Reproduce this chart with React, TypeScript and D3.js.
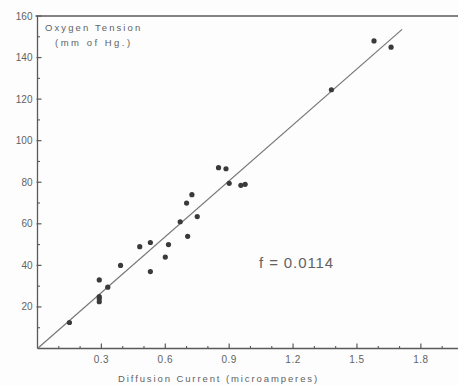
import React from "react";
import * as d3 from "d3";

// Diffusion current (µA) vs. oxygen tension (mm Hg) calibration points
const current = [0.15, 0.29, 0.29, 0.29, 0.29, 0.33, 0.39, 0.48, 0.53, 0.53, 0.6, 0.615, 0.67, 0.7, 0.705, 0.725, 0.75, 0.85, 0.885, 0.9, 0.955, 0.975, 1.38, 1.58, 1.66];
const tension = [12.5, 33, 25, 24, 22.5, 29.5, 40, 49, 51, 37, 44, 50, 61, 70, 54, 74, 63.5, 87, 86.5, 79.5, 78.5, 79, 124.5, 148, 145];

const xTicks = [0.3, 0.6, 0.9, 1.2, 1.5, 1.8];
const xTickLabels = ["0.3", "0.6", "0.9", "1.2", "1.5", "1.8"];
const yTicks = [20, 40, 60, 80, 100, 120, 140, 160];

// Fitted calibration line through the origin
const lineSlope = 89.7;
const lineEndX = 1.712;
const factorLabel = "f = 0.0114";

const W = 458;
const H = 385;

export default function App() {
  const x = d3.scaleLinear().domain([0, 1.98]).range([37.5, 459.2]);
  const y = d3.scaleLinear().domain([0, 160]).range([348.5, 16]);

  const ink = "#5a5a5a";
  const textCol = "#626262";
  const font = "'Liberation Sans', Arial, sans-serif";

  const minorX = d3.range(1, 20).map((i) => i / 10).filter((v) => !xTicks.some((t) => Math.abs(t - v) < 1e-6));
  const minorY = d3.range(10, 160, 20);

  const fitLine = d3.line<number>()
    .x((d) => x(d))
    .y((d) => y(d * lineSlope));

  return (
    <svg
      width={W}
      height={H}
      style={{ position: "fixed", left: 0, top: 0, background: "#fdfdfd" }}
    >
      <rect x={0} y={0} width={W} height={H} fill="#fdfdfd" />
      {/* frame: left axis, top rule, bottom axis */}
      <line x1={x(0)} y1={y(160)} x2={x(0)} y2={y(0)} stroke={ink} strokeWidth={1.3} />
      <line x1={x(0) - 2} y1={y(160)} x2={W} y2={y(160)} stroke={ink} strokeWidth={1.3} />
      <line x1={x(0)} y1={y(0)} x2={W} y2={y(0)} stroke={ink} strokeWidth={1.3} />

      {/* x ticks */}
      {xTicks.map((t, i) => (
        <g key={"xt" + i}>
          <line x1={x(t)} x2={x(t)} y1={y(0)} y2={y(0) - 5} stroke={ink} strokeWidth={1.2} />
          <text
            x={x(t)}
            y={y(0) + 14}
            textAnchor="middle"
            fontSize={10}
            fontFamily={font}
            fill={textCol}
            letterSpacing={0.5}
          >
            {xTickLabels[i]}
          </text>
        </g>
      ))}
      {minorX.map((t, i) => (
        <line key={"xm" + i} x1={x(t)} x2={x(t)} y1={y(0)} y2={y(0) - 2.5} stroke={ink} strokeWidth={1.1} />
      ))}

      {/* y ticks */}
      {yTicks.map((t, i) => (
        <g key={"yt" + i}>
          <line x1={x(0) - 1} x2={x(0) + 4} y1={y(t)} y2={y(t)} stroke={ink} strokeWidth={1.2} />
          <text
            x={x(0) - 5}
            y={y(t) + 3.5}
            textAnchor="end"
            fontSize={10}
            fontFamily={font}
            fill={textCol}
          >
            {t}
          </text>
        </g>
      ))}
      {minorY.map((t, i) => (
        <line key={"ym" + i} x1={x(0)} x2={x(0) + 2.5} y1={y(t)} y2={y(t)} stroke={ink} strokeWidth={1.1} />
      ))}

      {/* calibration line */}
      <path d={fitLine([0, lineEndX]) || ""} stroke="#777" strokeWidth={1.2} fill="none" />

      {/* observations */}
      {current.map((c, i) => (
        <circle key={"p" + i} cx={x(c)} cy={y(tension[i])} r={2.6} fill="#3a3a3a" />
      ))}

      {/* labels */}
      <text x={45} y={31} fontSize={9.5} fontFamily={font} fill={textCol} letterSpacing={2.1}>
        Oxygen Tension
      </text>
      <text x={55} y={46} fontSize={9.5} fontFamily={font} fill={textCol} letterSpacing={2.5}>
        (mm of Hg.)
      </text>
      <text x={118} y={382} fontSize={9.5} fontFamily={font} fill={textCol} letterSpacing={1.9}>
        Diffusion Current (microamperes)
      </text>
      <text x={259} y={268} fontSize={15} fontFamily={font} fill={textCol} letterSpacing={0.9}>
        {factorLabel}
      </text>
    </svg>
  );
}
